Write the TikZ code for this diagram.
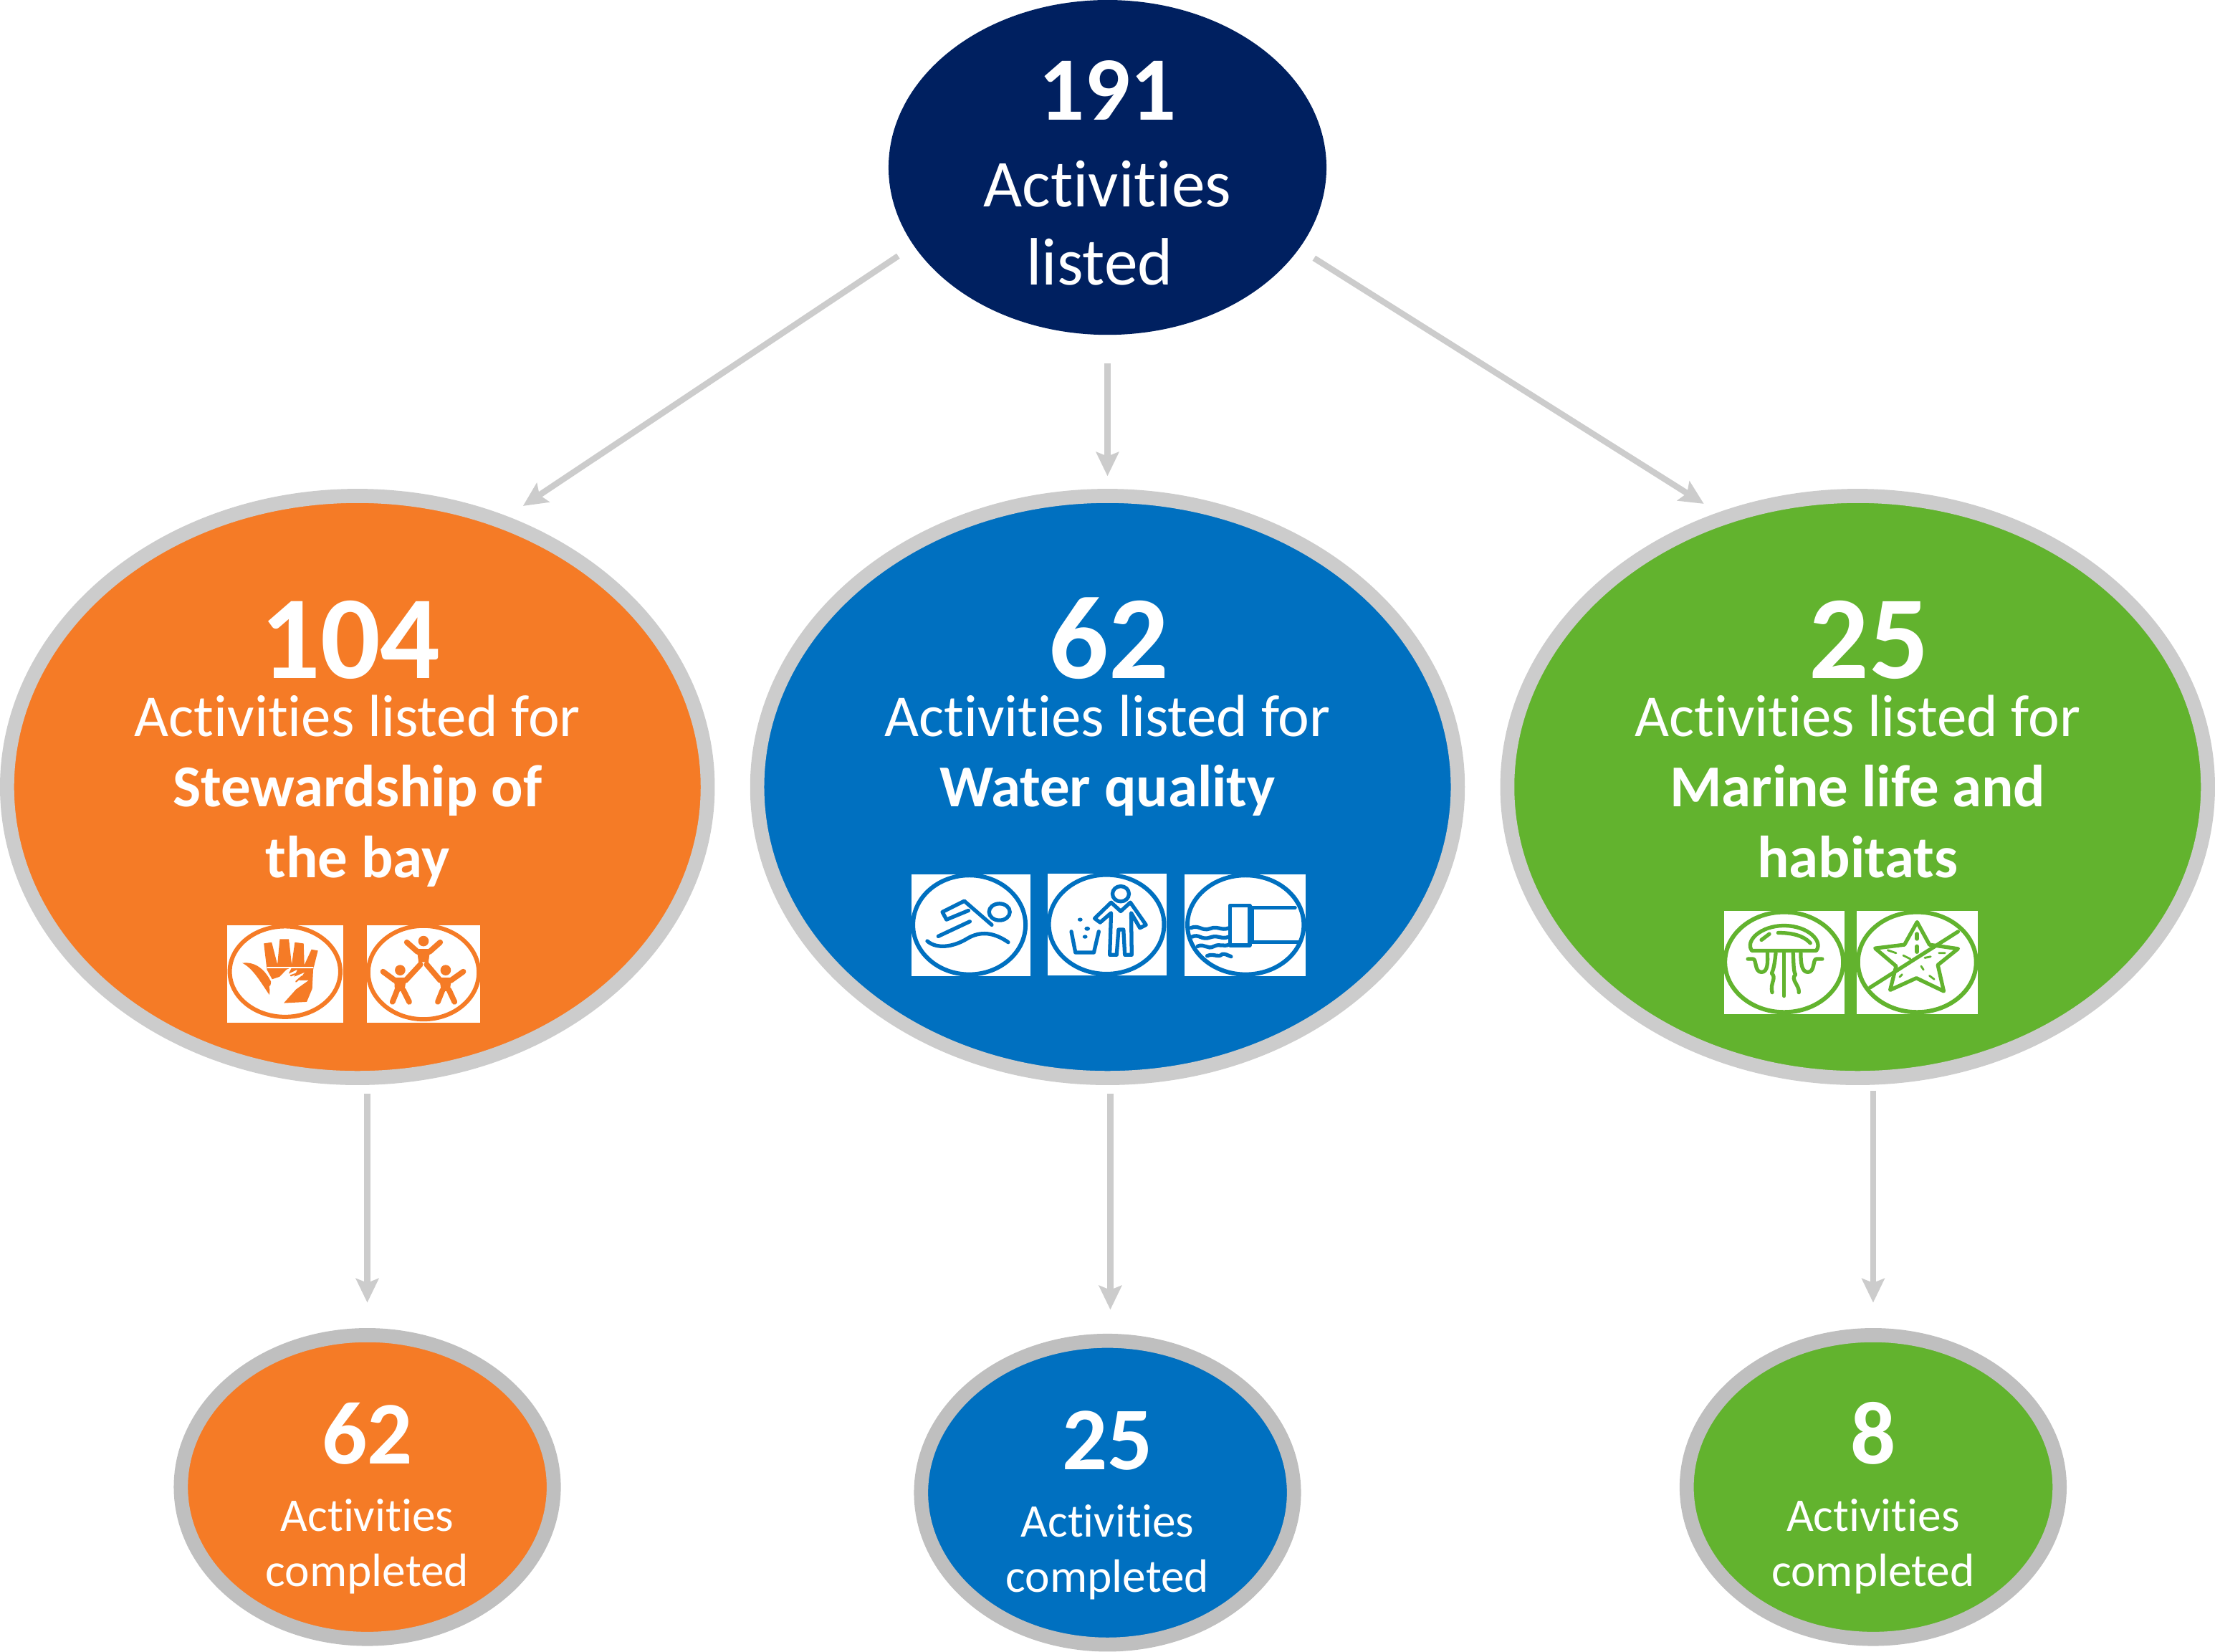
\documentclass[tikz,border=0pt]{standalone}
\usepackage{fontspec}
\setmainfont[Ligatures=NoCommon]{Carlito}
\usetikzlibrary{shapes.geometric,arrows.meta,calc}
\definecolor{navy}{HTML}{002060}
\definecolor{orng}{HTML}{F57B26}
\definecolor{blu}{HTML}{0070C0}
\definecolor{grn}{HTML}{62B32E}
\definecolor{gry}{HTML}{CCCCCC}
\definecolor{gryb}{HTML}{BFBFBF}
\newcommand{\uu}{.019713cm}
\newcommand{\fs}[1]{\fontsize{#1}{#1}\selectfont}
\tikzset{
  x=.019713cm,y=-.019713cm,
  topell/.style={ellipse,fill=navy,minimum width=310*\uu,minimum height=237*\uu,inner sep=0pt},
  midell/.style={ellipse,draw=gry,line width=10*\uu,fill=#1,minimum width=496*\uu,minimum height=412*\uu,inner sep=0pt},
  lowell/.style={ellipse,draw=gryb,line width=10*\uu,fill=#1,minimum width=264*\uu,minimum height=215*\uu,inner sep=0pt},
  txt/.style={anchor=base,text=white,inner sep=0pt,outer sep=0pt},
  topnum/.style={txt,font=\fs{36}\bfseries},
  toptxt/.style={txt,font=\fs{26.6}},
  midnum/.style={txt,font=\fs{47}\bfseries},
  midtxt/.style={txt,font=\fs{23.6}},
  midbold/.style={txt,font=\fs{23.6}\bfseries},
  lownum/.style={txt,font=\fs{35.5}\bfseries},
  lowtxt/.style={txt,font=\fs{18.6}},
  conn/.style={draw=gry,line width=4.3*\uu,-{Stealth[length=17*\uu,width=16*\uu,inset=3*\uu]}},
  ico/.style={line width=1.5pt,line join=round,line cap=round},
}
\begin{document}
\begin{tikzpicture}
\useasboundingbox (0,0) rectangle (1568,1169);
% ellipses
\node[topell] (top) at (784,118.5) {};
\node[midell=orng] (m1) at (253,557) {};
\node[midell=blu] (m2) at (784,557) {};
\node[midell=grn] (m3) at (1315,557) {};
\node[lowell=orng] (lo1) at (260,1052.5) {};
\node[lowell=blu] (lo2) at (784,1056.5) {};
\node[lowell=grn] (lo3) at (1326,1052.5) {};
% connectors
\draw[conn,shorten <=13*\uu,shorten >=13.3*\uu] (top.202) -- (m1.61.9);
\draw[conn,shorten <=20*\uu,shorten >=9*\uu] (top.south) -- (m2.north);
\draw[conn,shorten <=12.3*\uu,shorten >=11.7*\uu] (top.337.7) -- (m3.117.4);
\draw[conn,shorten <=6*\uu,shorten >=18*\uu] (lo1.north |- m1.south) -- (lo1.north);
\draw[conn,shorten <=6*\uu,shorten >=17*\uu] ([xshift=2*\uu]lo2.north |- m2.south) -- ([xshift=2*\uu]lo2.north);
\draw[conn,shorten <=4*\uu,shorten >=18*\uu] (lo3.north |- m3.south) -- (lo3.north);
% text
\node[topnum] (t0) at (784,85) {191};
\node[toptxt] (t1) at (784,146.5) {Activities};
\node[toptxt] (t2) at (778.5,201.5) {listed};
\node[midnum] (a0) at (248,480) {104};
\node[midtxt] (a1) at (253,521) {Activities listed for};
\node[midbold] (a2) at (253,571) {Stewardship of};
\node[midbold] (a3) at (253,621) {the bay};
\node[midnum] (b0) at (785,480) {62};
\node[midtxt] (b1) at (784,521) {Activities listed for};
\node[midbold] (b2) at (784,571) {Water quality};
\node[midnum] (c0) at (1323,480) {25};
\node[midtxt] (c1) at (1315,521) {Activities listed for};
\node[midbold] (c2) at (1315,571) {Marine life and};
\node[midbold] (c3) at (1315,621) {habitats};
\node[lownum] (d0) at (260,1036) {62};
\node[lowtxt] (d1) at (260,1084) {Activities};
\node[lowtxt] (d2) at (260,1123) {completed};
\node[lownum] (e0) at (784,1040) {25};
\node[lowtxt] (e1) at (784,1088) {Activities};
\node[lowtxt] (e2) at (784,1127) {completed};
\node[lownum] (f0) at (1326,1036) {8};
\node[lowtxt] (f1) at (1326,1084) {Activities};
\node[lowtxt] (f2) at (1326,1123) {completed};
% orange icons (crop coordinates)
\begin{scope}[shift={(3cm,-12.2cm)},x=.003333cm,y=-.003333cm,ico,draw=orng,fill=orng]
\fill[white] (51,213) rectangle (537,621);
\fill[white] (636,213) rectangle (1113,621);
\draw[line width=1.7pt] (294,408) ellipse [x radius=232,y radius=190];
\draw[line width=1.7pt] (875,412) ellipse [x radius=232,y radius=196];
% hand
\fill[draw=none] (205,290)--(238,285)--(262,378)--(272,272)--(310,272)--(322,378)--(335,285)--(372,290)--(375,380)--(405,315)--(432,320)--(412,400)--(408,480)--(385,535)--(290,540)--(300,420)--(240,440)--(218,400)--cycle;
\fill[draw=none] (115,372) .. controls (160,365) and (205,390) .. (235,450) -- (228,505) .. controls (190,450) and (160,395) .. (115,372) -- cycle;
\fill[white,draw=none] (228,470)--(262,440)--(300,400)--(322,390)--(308,418)--(345,400)--(332,430)--(375,412)--(352,445)--(392,445)--(340,482)--(288,540)--(235,525)--cycle;
\draw[white,line width=.5pt] (220,390)--(412,390);
\draw[orng,line width=.6pt] (318,425)--(345,415) (340,450)--(365,428);
% people
\fill[draw=none] (875,280) circle [x radius=22,y radius=22];
\fill[draw=none] (777,402) circle [x radius=22,y radius=22];
\fill[draw=none] (968,402) circle [x radius=22,y radius=22];
\draw[line width=2.2pt] (805,285)--(850,325)--(900,325)--(945,285);
\fill[draw=none] (848,318)--(902,318)--(895,375)--(880,368)--(870,368)--(855,375)--cycle;
\draw[line width=2.2pt] (705,408)--(755,445)--(800,445)--(862,378);
\draw[line width=2.2pt] (888,378)--(945,445)--(990,445)--(1042,408);
\fill[draw=none] (752,440)--(802,440)--(795,490)--(755,490)--cycle;
\fill[draw=none] (942,440)--(992,440)--(985,490)--(950,490)--cycle;
\draw[line width=2.2pt] (765,485)--(745,535) (790,485)--(815,535);
\draw[line width=2.2pt] (955,485)--(935,535) (982,485)--(1005,535);
\end{scope}
% blue icons
\begin{scope}[shift={(12.5cm,-12cm)},x=.003827cm,y=-.003333cm,ico,draw=blu]
\fill[white] (57,60) rectangle (491,486);
\fill[white] (554,57) rectangle (988,483);
\fill[white] (1053,60) rectangle (1495,486);
\draw[line width=1.7pt] (268,272) ellipse [x radius=205,y radius=208];
\draw[line width=1.7pt] (768,270) ellipse [x radius=210,y radius=208];
\draw[line width=1.7pt] (1275,272) ellipse [x radius=212,y radius=208];
% swimmer
\draw (378,218) ellipse [x radius=38,y radius=35];
\draw (350,272)--(250,172)--(170,218)--(185,250)--(265,212);
\draw (270,258)--(155,320);
\draw (115,340) .. controls (150,375) and (210,365) .. (260,330) .. controls (310,295) and (360,305) .. (410,345);
% person and bin
\draw (820,142) ellipse [x radius=30,y radius=32];
\draw (785,178)--(725,245)--(745,262)--(785,222)--(780,398)--(805,398)--(812,292)--(830,292)--(835,398)--(860,398)--(858,222)--(890,285)--(912,272)--(855,178)--(820,215)--cycle;
\draw (640,300)--(655,388)--(722,388)--(740,300);
\fill[blu] (672,250) circle [x radius=9,y radius=8];
\fill[blu] (698,288) circle [x radius=10,y radius=9];
\fill[blu] (690,322) circle [x radius=9,y radius=8];
% outfall
\draw (1218,190) rectangle (1290,358);
\draw (1290,200)--(1455,200) (1300,200)--(1300,345)--(1470,345);
\draw (1075,285) .. controls (1105,270) and (1115,300) .. (1145,288) .. controls (1175,275) and (1185,298) .. (1215,285);
\draw (1080,322) .. controls (1105,308) and (1115,338) .. (1145,325) .. controls (1175,312) and (1185,335) .. (1215,322);
\draw (1100,362) .. controls (1125,348) and (1135,378) .. (1160,362) .. controls (1180,350) and (1195,365) .. (1215,355);
\draw (1135,402) .. controls (1160,390) and (1175,412) .. (1190,395) .. controls (1200,392) and (1210,400) .. (1222,405);
\end{scope}
% green icons
\begin{scope}[shift={(23.8cm,-12.5cm)},x=.003333cm,y=-.003333cm,ico,draw=grn]
\fill[white] (78,63) rectangle (585,497);
\fill[white] (636,63) rectangle (1143,497);
\draw[line width=1.7pt] (330,278) ellipse [x radius=248,y radius=210];
\draw[line width=1.7pt] (888,278) ellipse [x radius=248,y radius=210];
% jellyfish
\draw (195,230) .. controls (165,190) and (230,125) .. (330,125) .. controls (430,125) and (495,190) .. (465,230) -- cycle;
\draw (235,185)--(268,160);
\draw (305,155) .. controls (360,155) and (410,165) .. (440,198);
\draw (330,240)--(330,420);
\draw (178,265)--(200,265) .. controls (215,265) and (205,320) .. (235,320) .. controls (262,320) and (262,280) .. (260,240);
\draw (490,265)--(465,265) .. controls (450,265) and (460,320) .. (430,320) .. controls (403,320) and (400,280) .. (400,240);
\draw (295,240) .. controls (290,290) and (285,310) .. (278,325) .. controls (300,345) and (270,365) .. (280,405);
\draw (368,240) .. controls (370,290) and (370,320) .. (378,330) .. controls (355,350) and (395,375) .. (392,405);
% star
\draw (888,110)--(940,205)--(1060,222)--(975,290)--(1000,400)--(885,345)--(775,395)--(800,295)--(712,220)--(835,205)--cycle;
\draw (690,385)--(1060,150);
\draw[line width=.8pt] (765,228)--(800,240) (830,250)--(860,265) (980,240)--(1005,240) (905,295)--(915,310) (940,335)--(960,350);
\draw[line width=1.6pt] (888,160)--(888,180) (888,212)--(888,235);
\draw[line width=.8pt] (920,260)--(945,255) (815,340)--(825,330);
\end{scope}
\end{tikzpicture}
\end{document}
